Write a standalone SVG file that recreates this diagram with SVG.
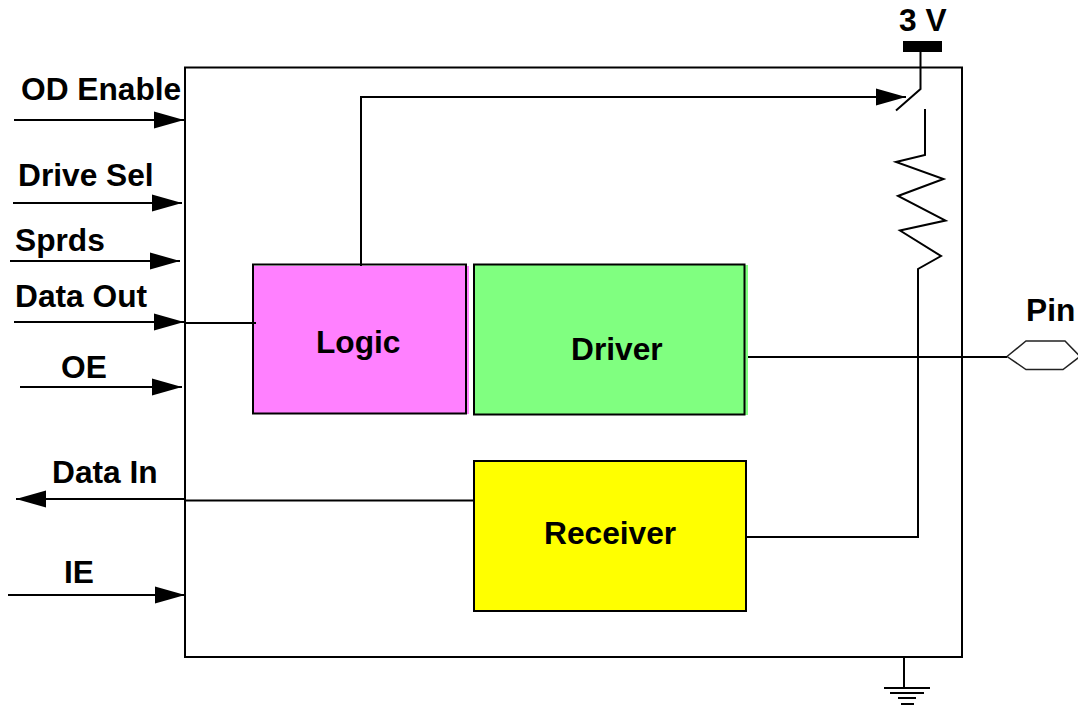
<svg xmlns="http://www.w3.org/2000/svg" width="1078" height="709" viewBox="0 0 1078 709">
<style>
text{font-family:"Liberation Sans",Arial,sans-serif;font-weight:700;font-size:31.700px;fill:#000}
.l{fill:none;stroke:#000;stroke-width:2}
.b{stroke:#000;stroke-width:2}
</style>
<defs>
<marker id="a" markerUnits="userSpaceOnUse" markerWidth="31" markerHeight="18" refX="30" refY="9" orient="auto"><path d="M0 0.500L30 9L0 17.500Z" fill="#000"/></marker>
</defs>
<rect width="1078" height="709" fill="#fff"/>
<g id="chip"><rect class="l" x="185" y="67.500" width="777" height="589.500"/></g>
<g id="logic"><rect x="254" y="266" width="215" height="148" fill="#ff80ff"/><rect class="l" x="253" y="264.500" width="213" height="149"/><text x="316" y="353">Logic</text></g>
<g id="driver"><rect x="474" y="265" width="274" height="150" fill="#80ff80"/><rect class="l" x="474" y="264.500" width="270.500" height="150"/><text x="571" y="360">Driver</text></g>
<g id="receiver"><rect class="b" x="474" y="461" width="272" height="150" fill="#ff0"/><text x="544" y="544">Receiver</text></g>
<g id="supply"><rect x="903" y="41" width="39" height="11" fill="#000"/><text x="899" y="31">3 V</text></g>
<g id="switch"><path class="l" d="M920.500 52V89L896 110.500"/></g>
<g id="resistor"><path class="l" d="M925 109V155L896 162L943.500 179L898 196L945.500 220.500L900 230.500L941 256L918 269V537H747"/></g>
<g id="pin"><path fill="#fff" stroke="#222" stroke-width="1.500" d="M1007 356.500L1026 341H1065L1080 356.500L1063 369.500H1026Z"/><text x="1026" y="321">Pin</text></g>
<g id="ground"><path class="l" d="M904 657V688M884 688H930M890 693H924M898 698H916M901 704H914"/></g>
<g id="connectors">
<path class="l" marker-end="url(#a)" d="M14 120H184"/>
<path class="l" marker-end="url(#a)" d="M13 203H182"/>
<path class="l" marker-end="url(#a)" d="M10 261H180"/>
<path class="l" marker-end="url(#a)" d="M14 322H184"/>
<path class="l" marker-end="url(#a)" d="M20 387H182"/>
<path class="l" marker-end="url(#a)" d="M185 499H16"/>
<path class="l" marker-end="url(#a)" d="M8 595H185"/>
<path class="l" d="M185 323H256M185 500.500H474M748 357H1007"/>
<path class="l" marker-end="url(#a)" d="M361 266V97H906"/>
</g>
<g id="labels">
<text x="21" y="100">OD Enable</text>
<text x="18" y="186">Drive Sel</text>
<text x="15" y="251">Sprds</text>
<text x="15" y="307">Data Out</text>
<text x="61" y="378">OE</text>
<text x="52" y="483">Data In</text>
<text x="64" y="583">IE</text>
</g>
</svg>
